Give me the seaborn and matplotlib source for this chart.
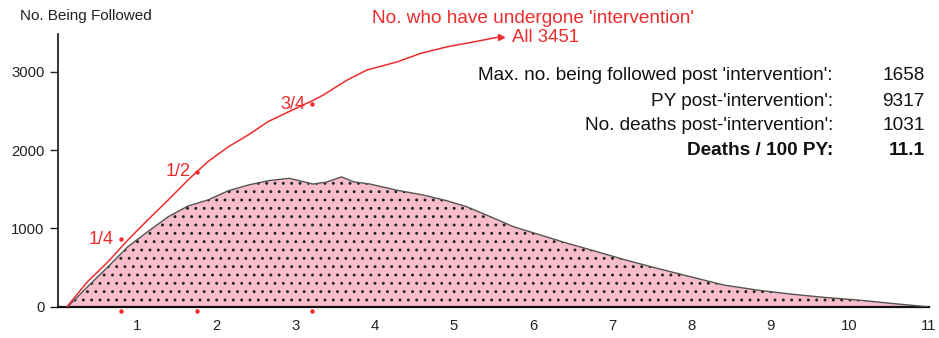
import matplotlib
matplotlib.use("Agg")
import matplotlib.pyplot as plt
import seaborn as sns
import pandas as pd

# Number of people being followed after 'intervention', by follow-up year
follow_years = [0.12, 0.37, 0.63, 0.88, 1.13, 1.39, 1.64, 1.89, 2.15, 2.40, 2.65,
                2.80, 2.92, 3.05, 3.22, 3.39, 3.58, 3.73, 3.94, 4.27, 4.61, 4.91,
                5.16, 5.41, 5.75, 6.09, 6.43, 6.76, 7.14, 7.57, 7.99, 8.41, 8.83,
                9.25, 9.67, 10.10, 10.52, 10.98]
n_followed = [0, 255, 511, 766, 958, 1149, 1286, 1363, 1481, 1554, 1609,
              1627, 1640, 1609, 1567, 1592, 1658, 1596, 1567, 1490, 1427, 1354,
              1278, 1172, 1023, 917, 811, 717, 605, 490, 383, 277, 213,
              162, 120, 86, 43, 0]

# Cumulative number who have undergone 'intervention'
cum_years = [0.11, 0.37, 0.63, 0.88, 1.13, 1.39, 1.64, 1.89, 2.15, 2.40, 2.65,
             2.87, 3.23, 3.35, 3.65, 3.90, 4.29, 4.58, 4.92, 5.26, 5.60]
n_cumulative = [0, 319, 575, 852, 1107, 1363, 1618, 1852, 2043, 2193, 2363,
                2470, 2640, 2704, 2895, 3023, 3129, 3236, 3321, 3384, 3451]

# Quartiles of the cumulative count
quart_labels = ["1/4", "1/2", "3/4"]
quart_years = [0.79, 1.76, 3.21]
quart_counts = [3451 / 4, 3451 / 2, 3451 * 3 / 4]

# Summary statistics
stat_labels = ["Max. no. being followed post 'intervention':",
               "PY post-'intervention':",
               "No. deaths post-'intervention':",
               "Deaths / 100 PY:"]
stat_values = ["1658", "9317", "1031", "11.1"]

x_ticks = list(range(1, 12))
y_ticks = [0, 1000, 2000, 3000]

RED = "#EE2C2C"
PINK = "#F8BDCA"

sns.set_style("ticks")
plt.rcParams["font.family"] = ["Liberation Sans", "DejaVu Sans"]
plt.rcParams["hatch.color"] = "#222222"
plt.rcParams["hatch.linewidth"] = 0.9

fig = plt.figure(figsize=(9.39, 3.38), dpi=100)
ax = fig.add_axes([0.062, 0.0926, 0.927, 0.806])

df_f = pd.DataFrame({"year": follow_years, "n": n_followed})
df_c = pd.DataFrame({"year": cum_years, "n": n_cumulative})

# shaded follow-up area with dotted texture
ax.fill_between(df_f["year"], 0, df_f["n"], facecolor=PINK, edgecolor="none", zorder=1)
ax.fill_between(df_f["year"], 0, df_f["n"], facecolor="none", edgecolor="#222222",
                hatch="..", linewidth=0, zorder=2)
sns.lineplot(data=df_f, x="year", y="n", color="#555555", linewidth=1.0,
             ax=ax, zorder=3, estimator=None, sort=False)

# cumulative curve with arrow-head at the end
sns.lineplot(data=df_c, x="year", y="n", color=RED, linewidth=1.1,
             ax=ax, zorder=4, estimator=None, sort=False)
ax.plot(cum_years[-1:], n_cumulative[-1:], marker=">", color=RED, markersize=4,
        linestyle="none", zorder=4)
ax.annotate(f"All {n_cumulative[-1]}", xy=(cum_years[-1], n_cumulative[-1]),
            xytext=(8, -1), textcoords="offset points", ha="left", va="center",
            color=RED, fontsize=13.4)

# quartile markers on the curve and below the axis
ax.plot(quart_years, quart_counts, marker="o", markersize=2.2, color=RED,
        linestyle="none", zorder=5)
ax.plot(quart_years, [-55] * len(quart_years), marker="o", markersize=2.2, color=RED,
        linestyle="none", clip_on=False, zorder=5)
for lab, qx, qy in zip(quart_labels, quart_years, quart_counts):
    ax.annotate(lab, xy=(qx, qy), xytext=(-5, 0), textcoords="offset points",
                ha="right", va="center", color=RED, fontsize=13)

ax.set_xlim(0, 11)
ax.set_ylim(0, 3480)
ax.set_xticks(x_ticks)
ax.set_xticklabels([str(t) for t in x_ticks])
ax.set_yticks(y_ticks)
ax.set_yticklabels([str(t) for t in y_ticks])
ax.tick_params(axis="x", length=0, pad=9, labelsize=10.7, colors="#222222")
ax.tick_params(axis="y", length=6, width=1.0, pad=4, labelsize=10.7, colors="#222222")
ax.set_xlabel("")
ax.set_ylabel("")
sns.despine(ax=ax)
for side in ("left", "bottom"):
    ax.spines[side].set_color("#111111")
ax.spines["left"].set_linewidth(1.2)
ax.spines["bottom"].set_linewidth(1.6)

fig.text(0.0213, 0.953, "No. Being Followed", ha="left", va="center",
         fontsize=11, color="#222222")
fig.text(0.396, 0.946, "No. who have undergone 'intervention'", ha="left",
         va="center", fontsize=13.7, color=RED)

row_y = [0.778, 0.701, 0.630, 0.556]
for lab, val, yy in zip(stat_labels, stat_values, row_y):
    weight = "bold" if lab.startswith("Deaths") else "normal"
    fig.text(0.887, yy, lab, ha="right", va="center", fontsize=13.7,
             color="#111111", fontweight=weight)
    fig.text(0.985, yy, val, ha="right", va="center", fontsize=13.7,
             color="#111111", fontweight=weight)

fig.savefig("out.png", dpi=100)
